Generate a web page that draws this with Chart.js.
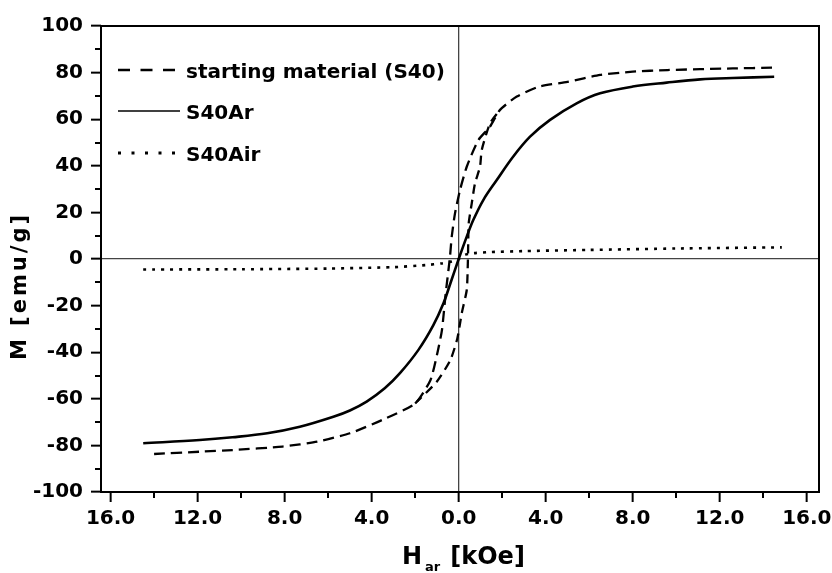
<!DOCTYPE html>
<html><head><meta charset="utf-8">
<script src="https://cdn.jsdelivr.net/npm/chart.js@4/dist/chart.umd.min.js"></script>
<style>html,body{margin:0;padding:0;background:#fff}#wrap{width:832px;height:573px}</style>
</head><body><div id="wrap"><canvas id="c" width="832" height="573"></canvas></div>
<script>
// ---- data ----
const xMajorTicks = [-16, -12, -8, -4, 0, 4, 8, 12, 16];
const yMajorTicks = [-100, -80, -60, -40, -20, 0, 20, 40, 60, 80, 100];

const seriesLabels = ['starting material (S40)', 'S40Ar', 'S40Air'];

// starting material (S40): descending-field branch
const s40Desc_H = [14.4, 12.6, 9.6, 8.0, 6.5, 5.0, 3.7, 2.67, 1.9, 1.43, 0.9, 0.37, 0.06, -0.17, -0.32, -0.4, -0.6, -0.77, -1.0, -1.3, -2.0, -3.5, -5.0, -6.5, -8.1, -10.4, -11.9, -14.0];
const s40Desc_M = [82.1, 81.8, 81.1, 80.4, 79.0, 76.0, 74.0, 69.7, 64.0, 56.7, 51.0, 39.6, 29.6, 19.6, 9.6, 1.0, -15.0, -30.5, -41.2, -52.0, -62.0, -69.0, -74.8, -78.4, -80.5, -82.0, -82.7, -83.7];
// starting material (S40): ascending-field branch (until it rejoins)
const s40Asc_H = [-2.0, -1.0, -0.38, -0.06, 0.14, 0.37, 0.42, 0.44, 0.46, 0.6, 0.75, 0.98, 1.06, 1.44, 1.9];
const s40Asc_M = [-62.0, -52.6, -43.3, -34.0, -23.3, -13.3, -1.8, 8.2, 15.3, 23.9, 32.5, 39.6, 46.8, 58.2, 64.0];

// S40Ar
const s40Ar_H = [-14.5, -11.9, -10.4, -8.8, -7.3, -5.76, -5.0, -4.23, -3.4, -2.7, -1.85, -1.17, -0.7, -0.38, 0, 0.37, 0.67, 1.13, 1.75, 2.5, 3.28, 4.2, 5.42, 6.5, 8.0, 9.56, 11.1, 12.6, 14.5];
const s40Ar_M = [-79.1, -77.7, -76.5, -74.8, -72.0, -67.7, -65.0, -61.2, -55.5, -49.0, -39.0, -28.5, -19.0, -10.4, 0, 9.6, 16.7, 25.3, 33.9, 43.9, 52.5, 59.7, 66.8, 71.1, 74.0, 75.7, 77.1, 77.7, 78.2];

// S40Air
const s40Air_H = [-14.5, -10, -6, -3, -1.5, -0.8, -0.3, 0, 0.3, 0.7, 1.5, 3, 6, 10, 14.85];
const s40Air_M = [-4.5, -4.4, -4.1, -3.5, -2.6, -1.9, -1.0, 0, 1.8, 2.5, 3.0, 3.4, 3.9, 4.5, 5.0];

const pts = (H, M) => H.map((h, i) => ({x: h, y: M[i]}));

const FONT = "'DejaVu Sans', sans-serif";

const chromePlugin = {
  id: 'chrome',
  afterDraw(chart) {
    const ctx = chart.ctx;
    const a = chart.chartArea;
    const xs = chart.scales.x, ys = chart.scales.y;
    ctx.save();
    // frame
    ctx.strokeStyle = '#000';
    ctx.lineWidth = 2;
    ctx.strokeRect(a.left, a.top, a.right - a.left, a.bottom - a.top);
    // minor ticks
    ctx.lineWidth = 2;
    ctx.beginPath();
    for (let v = -14; v <= 14; v += 4) {
      const px = Math.round(xs.getPixelForValue(v));
      ctx.moveTo(px, a.bottom); ctx.lineTo(px, a.bottom + 6);
    }
    for (let v = -90; v <= 90; v += 20) {
      const py = Math.round(ys.getPixelForValue(v));
      ctx.moveTo(a.left, py); ctx.lineTo(a.left - 6, py);
    }
    ctx.stroke();
    // axis titles
    ctx.fillStyle = '#000';
    ctx.save();
    ctx.translate(21, 286);
    ctx.rotate(-Math.PI / 2);
    ctx.font = 'bold 21px ' + FONT;
    try { ctx.letterSpacing = '3px'; } catch (e) {}
    ctx.textAlign = 'center';
    ctx.textBaseline = 'middle';
    ctx.fillText('M [emu/g]', 0, 0);
    ctx.restore();

    ctx.textAlign = 'left';
    ctx.textBaseline = 'alphabetic';
    let x = 402;
    ctx.font = 'bold 24px ' + FONT;
    ctx.fillText('H', x, 564);
    x += ctx.measureText('H').width + 3;
    ctx.font = 'bold 13px ' + FONT;
    ctx.fillText('ar', x, 571);
    x += ctx.measureText('ar').width + 10;
    ctx.font = 'bold 24px ' + FONT;
    ctx.fillText('[kOe]', x, 564);

    // legend
    const items = [
      {ds: 0, y: 70, dash: [12, 10.5], w: 2.5},
      {ds: 2, y: 111, dash: [], w: 1.4},
      {ds: 3, y: 153, dash: [3, 10.5], w: 3}
    ];
    items.forEach(it => {
      const d = chart.data.datasets[it.ds];
      ctx.beginPath();
      ctx.setLineDash(it.dash);
      ctx.lineWidth = it.w;
      ctx.strokeStyle = d.borderColor;
      ctx.moveTo(118, it.y); ctx.lineTo(180, it.y);
      ctx.stroke();
      ctx.setLineDash([]);
      ctx.font = 'bold 20px ' + FONT;
      ctx.fillStyle = '#000';
      ctx.fillText(d.label, 186, it.y + 7.5);
    });
    ctx.restore();
  }
};

const zeroColor = c => (c.tick && c.tick.value === 0) ? '#444' : 'rgba(0,0,0,0)';

new Chart(document.getElementById('c'), {
  type: 'scatter',
  data: {
    datasets: [
      {label: seriesLabels[0], data: pts(s40Desc_H, s40Desc_M), showLine: true, borderColor: '#000', borderWidth: 2.3, borderDash: [11, 6], pointRadius: 0, tension: 0.2, fill: false},
      {label: seriesLabels[0] + ' (asc)', data: pts(s40Asc_H, s40Asc_M), showLine: true, borderColor: '#000', borderWidth: 2.3, borderDash: [9, 6], pointRadius: 0, tension: 0.2, fill: false},
      {label: seriesLabels[1], data: pts(s40Ar_H, s40Ar_M), showLine: true, borderColor: '#000', borderWidth: 2.6, borderDash: [], pointRadius: 0, tension: 0.35, fill: false},
      {label: seriesLabels[2], data: pts(s40Air_H, s40Air_M), showLine: true, borderColor: '#000', borderWidth: 2.6, borderDash: [3, 6], pointRadius: 0, tension: 0.2, fill: false}
    ]
  },
  options: {
    responsive: false,
    animation: false,
    devicePixelRatio: 1,
    layout: {padding: {top: 26, right: 13, left: 0, bottom: 0}},
    plugins: {legend: {display: false}, tooltip: {enabled: false}},
    scales: {
      x: {
        type: 'linear', min: -16.44, max: 16.56,
        afterBuildTicks: s => { s.ticks = xMajorTicks.map(v => ({value: v})); },
        afterFit: s => { s.height = 81; s.paddingLeft = 0; s.paddingRight = 0; },
        ticks: {color: '#000', font: {family: FONT, size: 20, weight: 'bold'}, padding: 5, maxRotation: 0, autoSkip: false,
          callback: v => Math.abs(v).toFixed(1)},
        grid: {drawOnChartArea: true, color: zeroColor, lineWidth: 1.3, tickColor: '#000', tickLength: 10, tickWidth: 2},
        border: {display: false}
      },
      y: {
        type: 'linear', min: -100, max: 100,
        afterBuildTicks: s => { s.ticks = yMajorTicks.map(v => ({value: v})); },
        afterFit: s => { s.width = 101; s.paddingTop = 0; s.paddingBottom = 0; },
        ticks: {color: '#000', font: {family: FONT, size: 20, weight: 'bold'}, padding: 8, autoSkip: false,
          callback: v => String(v)},
        grid: {drawOnChartArea: true, color: zeroColor, lineWidth: 1.3, tickColor: '#000', tickLength: 10, tickWidth: 2},
        border: {display: false}
      }
    }
  },
  plugins: [chromePlugin]
});
</script>
</body></html>
